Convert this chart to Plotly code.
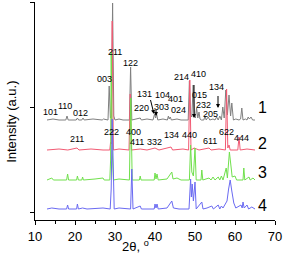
import plotly.graph_objects as go

# ---- data (2theta in degrees, intensity above each pattern's own baseline) ----
pattern_names = ["1", "2", "3", "4"]
pattern_offsets = [92, 62, 32, 3]

gray_pts = [(13.0, 0), (14.5, 1), (16.0, 0), (17.7, 0), (18.0, 4), (18.3, 0), (20.3, 0), (20.6, 2), (20.9, 0),
            (21.7, 0), (22.0, 2), (22.3, 0), (24.5, 1), (26.8, 0), (27.1, 1), (28.25, 0), (28.55, 34), (28.85, 2),
            (29.1, 4), (29.4, 117), (29.7, 4), (30.0, 0), (31.0, 1), (32.0, 0), (33.6, 0), (33.9, 53), (34.2, 0),
            (35.5, 1), (36.3, 2), (36.6, 0), (38.0, 1), (39.5, 0), (39.9, 6), (40.15, 2), (40.4, 6), (40.7, 0),
            (42.0, 1), (43.1, 0), (43.35, 4), (43.55, 1), (43.8, 3), (44.1, 0), (45.5, 1), (46.5, 0), (48.3, 0),
            (48.6, 39), (48.9, 5), (49.2, 3), (49.55, 35), (49.9, 4), (50.1, 2), (50.4, 12), (50.7, 2), (51.0, 8),
            (51.25, 1), (51.6, 0), (52.2, 0), (52.5, 4), (52.8, 0), (53.3, 3), (53.7, 0), (54.5, 1), (55.0, 0),
            (55.4, 3), (55.8, 0), (56.2, 4), (56.6, 0), (56.95, 13), (57.3, 2), (57.7, 30), (58.1, 5), (58.5, 25),
            (58.9, 4), (59.2, 17), (59.6, 0), (60.2, 1), (61.0, 0), (61.4, 1), (61.7, 12), (62.0, 0), (62.6, 1),
            (63.0, 0), (63.3, 3), (63.6, 1), (64.0, 3), (64.4, 0), (65.0, 0)]

red_pts = [(13.0, 0), (16.0, 1), (18.2, 0), (20.5, 2), (21.0, 0), (24.0, 1), (27.0, 0), (28.7, 0), (28.9, 8),
           (29.05, 6), (29.3, 129), (29.6, 0), (31.0, 1), (33.5, 0), (33.8, 56), (34.1, 0), (36.3, 1), (38.0, 0),
           (40.0, 2), (41.0, 0), (44.0, 3), (44.4, 0), (47.0, 1), (48.4, 0), (48.7, 70), (49.0, 0), (49.8, 2),
           (51.0, 0), (53.5, 2), (54.0, 0), (56.0, 1), (57.6, 0), (57.9, 61), (58.2, 2), (58.5, 5), (58.8, 0),
           (60.7, 0), (61.0, 13), (61.3, 0), (63.0, 1), (65.0, 0)]

green_pts = [(13.0, 0), (14.2, 2), (14.6, 0), (17.9, 0), (18.15, 6), (18.4, 0), (20.4, 0), (20.6, 4), (20.85, 0),
             (21.7, 0), (21.9, 3), (22.1, 0), (25.0, 1), (27.0, 2), (27.3, 0), (28.7, 0), (28.9, 20), (29.05, 128),
             (29.3, 30), (29.6, 0), (31.0, 1), (33.6, 0), (33.95, 82), (34.3, 0), (36.1, 0), (36.3, 4), (36.5, 0),
             (39.8, 0), (40.0, 7), (40.25, 1), (40.5, 6), (40.8, 0), (43.0, 1), (44.2, 8), (44.5, 1), (45.5, 2),
             (46.5, 0), (48.6, 0), (48.9, 35), (49.2, 8), (49.6, 4), (50.0, 32), (50.3, 0), (51.5, 0), (51.7, 10),
             (51.95, 0), (53.5, 2), (54.0, 0), (54.5, 3), (55.0, 0), (55.8, 3), (56.2, 0), (56.6, 4), (57.0, 0),
             (57.8, 12), (58.1, 2), (58.6, 28), (58.9, 18), (59.3, 3), (60.0, 4), (60.4, 0), (62.0, 0), (62.2, 12),
             (62.45, 0), (63.5, 3), (63.8, 0), (64.5, 2), (65.0, 0)]

blue_pts = [(13.0, 0), (14.2, 1), (16.0, 0), (17.9, 0), (18.15, 4), (18.4, 0), (20.4, 0), (20.6, 5), (20.85, 0),
            (21.9, 1), (23.0, 0), (27.0, 1), (28.8, 0), (29.05, 20), (29.3, 90), (29.55, 40), (29.8, 0), (31.0, 1),
            (33.9, 0), (34.2, 40), (34.5, 0), (36.3, 3), (36.6, 0), (39.8, 0), (40.0, 5), (40.25, 1), (40.5, 5),
            (40.8, 0), (43.0, 1), (44.2, 8), (44.6, 1), (46.0, 0), (48.5, 0), (48.9, 30), (49.1, 12), (49.3, 25),
            (49.6, 8), (50.0, 27), (50.3, 0), (51.7, 7), (52.0, 0), (53.0, 1), (54.2, 3), (54.6, 0), (55.8, 4),
            (56.2, 0), (56.6, 3), (57.0, 1), (57.5, 5), (58.0, 8), (58.4, 20), (58.8, 29), (59.2, 18), (59.7, 6),
            (60.2, 1), (61.5, 4), (61.8, 1), (62.0, 7), (62.3, 1), (63.0, 4), (63.4, 0), (64.2, 2), (65.0, 0)]

pattern_points = [gray_pts, red_pts, green_pts, blue_pts]

x_ticks = [10, 20, 30, 40, 50, 60, 70]

# (label, 2theta, y) for pattern 1 (top) and pattern 2 reflections
hkl_top = [("101", 13.75, 100), ("110", 17.5, 106), ("012", 21.25, 99), ("003", 27.25, 133),
           ("211", 30.0, 160), ("122", 33.75, 149), ("131", 37.25, 118), ("220", 36.5, 104),
           ("104", 41.75, 117), ("303", 41.5, 105), ("401", 45.0, 113), ("024", 45.75, 102),
           ("214", 46.5, 135), ("410", 50.75, 138), ("015", 51.0, 117), ("232", 52.0, 107),
           ("205", 53.9, 98), ("134", 55.25, 125)]
hkl_second = [("211", 20.5, 73), ("222", 29.0, 80), ("400", 34.5, 80), ("411", 35.5, 70),
              ("332", 39.75, 70), ("134", 44.0, 77), ("440", 48.5, 77), ("611", 53.75, 71),
              ("622", 57.75, 80), ("444", 61.5, 74)]
name_pos = [(66.75, 105), (66.75, 69), (66.75, 40), (66.75, 7)]

# arrows: (tip x, tip y, tail x, tail y)
arrows = [(39.75, 98, 38.75, 114), (40.25, 96, 40.25, 104), (49.75, 94, 49.75, 129), (55.75, 104, 55.75, 118)]

colors = ["#808080", "#f25a73", "#70e04c", "#6a6af2"]
FONT = "Arial, Liberation Sans, sans-serif"

fig = go.Figure()
for pts, off, col, nm in zip(pattern_points, pattern_offsets, colors, pattern_names):
    fig.add_trace(go.Scatter(x=[p[0] for p in pts], y=[p[1] + off for p in pts], mode="lines",
                             line=dict(color=col, width=1), name=nm, showlegend=False,
                             hoverinfo="skip"))

ann = []
for t, x, y in hkl_top + hkl_second:
    ann.append(dict(x=x, y=y, text=t, showarrow=False, xref="x", yref="y",
                    font=dict(size=9, color="black", family=FONT)))
for nm, (x, y) in zip(pattern_names, name_pos):
    ann.append(dict(x=x, y=y, text=nm, showarrow=False, xref="x", yref="y",
                    font=dict(size=16, color="black", family=FONT)))
for tx, ty, ax, ay in arrows:
    ann.append(dict(x=tx, y=ty, ax=ax, ay=ay, xref="x", yref="y", axref="x", ayref="y",
                    text=" ", showarrow=True, arrowhead=2, arrowsize=0.8, arrowwidth=1,
                    arrowcolor="black", font=dict(size=1)))
ann.append(dict(x=-0.096, y=0.45, xref="paper", yref="paper", xanchor="center", yanchor="middle",
                text="Intensity (a.u.)", textangle=-90, showarrow=False,
                font=dict(size=13, color="black", family=FONT)))
ann.append(dict(x=0.354, y=-0.117, xref="paper", yref="paper", xanchor="left", yanchor="middle",
                text="2θ, <sup>o</sup>", showarrow=False,
                font=dict(size=13, color="black", family=FONT)))

fig.update_layout(
    width=283, height=254,
    margin=dict(l=35, r=8, t=2, b=34),
    paper_bgcolor="white", plot_bgcolor="white",
    annotations=ann,
    xaxis=dict(range=[10, 70], tickvals=x_ticks, ticks="outside", ticklen=4, tickwidth=1,
               tickcolor="black", showline=True, linecolor="black", linewidth=1,
               showgrid=False, zeroline=False,
               tickfont=dict(size=13, color="black", family=FONT),
               minor=dict(dtick=5, tick0=0, ticks="outside", ticklen=2.5, tickcolor="black")),
    yaxis=dict(range=[-8, 210], tickvals=[0, 105, 210], ticks="outside", ticklen=4, tickwidth=1,
               tickcolor="black", showline=True, linecolor="black", linewidth=1,
               showticklabels=False, showgrid=False, zeroline=False),
)

fig.write_html("out.html", config={"displayModeBar": False},
               post_script="document.body.style.margin='0';document.body.style.overflow='hidden';")
